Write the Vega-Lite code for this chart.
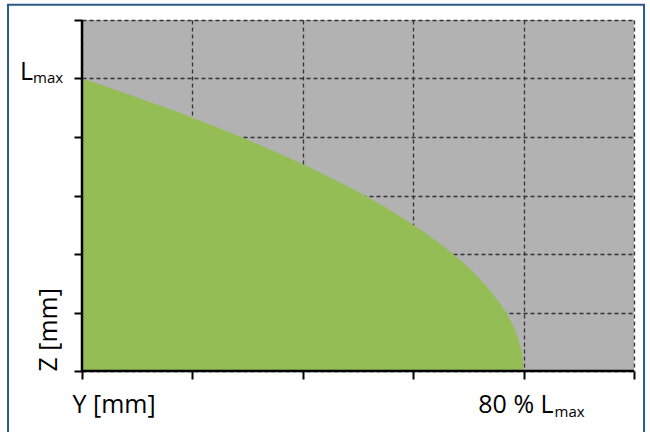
{
  "$schema": "https://vega.github.io/schema/vega-lite/v6.json",
  "width": 552,
  "height": 351,
  "autosize": {"type": "none"},
  "padding": {"left": 82, "top": 20, "right": 16, "bottom": 61},
  "background": "white",
  "config": {
    "view": {"fill": "#b2b2b3", "stroke": null},
    "font": "Open Sans"
  },
  "datasets": {
    "zone": [
      {"y_pos": 0, "z_pos": 5},
      {"y_pos": 0.25, "z_pos": 4.841},
      {"y_pos": 0.5, "z_pos": 4.677},
      {"y_pos": 0.75, "z_pos": 4.507},
      {"y_pos": 1.0, "z_pos": 4.330},
      {"y_pos": 1.25, "z_pos": 4.146},
      {"y_pos": 1.5, "z_pos": 3.953},
      {"y_pos": 1.75, "z_pos": 3.75},
      {"y_pos": 2.0, "z_pos": 3.536},
      {"y_pos": 2.25, "z_pos": 3.307},
      {"y_pos": 2.5, "z_pos": 3.062},
      {"y_pos": 2.75, "z_pos": 2.795},
      {"y_pos": 3.0, "z_pos": 2.5},
      {"y_pos": 3.25, "z_pos": 2.165},
      {"y_pos": 3.5, "z_pos": 1.768},
      {"y_pos": 3.6, "z_pos": 1.581},
      {"y_pos": 3.7, "z_pos": 1.369},
      {"y_pos": 3.8, "z_pos": 1.118},
      {"y_pos": 3.85, "z_pos": 0.968},
      {"y_pos": 3.9, "z_pos": 0.791},
      {"y_pos": 3.95, "z_pos": 0.559},
      {"y_pos": 3.98, "z_pos": 0.354},
      {"y_pos": 3.99, "z_pos": 0.25},
      {"y_pos": 3.995, "z_pos": 0.177},
      {"y_pos": 4.0, "z_pos": 0}
    ],
    "one": [{"k": 1}]
  },
  "layer": [
    {
      "data": {"name": "zone"},
      "mark": {"type": "area", "color": "#94bd55", "interpolate": "monotone"},
      "encoding": {
        "x": {
          "field": "y_pos", "type": "quantitative",
          "scale": {"domain": [0, 5], "nice": false, "zero": false},
          "axis": {
            "values": [0, 1, 2, 3, 4, 5],
            "labels": false,
            "grid": true, "gridColor": "#333333", "gridDash": [4, 3], "gridWidth": 1.3, "gridOpacity": 1,
            "domain": false,
            "tickColor": "black", "tickWidth": 2, "tickSize": 8,
            "title": "Y [mm]",
            "titleFont": "Open Sans", "titleFontSize": 25, "titleFontWeight": "normal", "titleColor": "black",
            "titleAnchor": "start", "titleAlign": "left", "titleBaseline": "alphabetic",
            "titleX": -10, "titleY": 41
          }
        },
        "y": {
          "field": "z_pos", "type": "quantitative",
          "scale": {"domain": [0, 6], "nice": false, "zero": false},
          "axis": {
            "values": [0, 1, 2, 3, 4, 5, 6],
            "labels": false,
            "grid": true, "gridColor": "#333333", "gridDash": [4, 3], "gridWidth": 1.3, "gridOpacity": 1,
            "domain": false,
            "tickColor": "black", "tickWidth": 2, "tickSize": 8,
            "title": "Z [mm]",
            "titleFont": "Open Sans", "titleFontSize": 25, "titleFontWeight": "normal", "titleColor": "black",
            "titleAnchor": "start", "titleAlign": "left", "titleBaseline": "alphabetic", "titleAngle": -90,
            "titleX": -26, "titleY": 351
          }
        }
      }
    },
    {
      "data": {"name": "one"},
      "mark": {"type": "rule", "color": "black", "strokeWidth": 2.5},
      "encoding": {"x": {"datum": 0, "type": "quantitative"}, "y": {"datum": 0, "type": "quantitative"}, "y2": {"datum": 6}}
    },
    {
      "data": {"name": "one"},
      "mark": {"type": "rule", "color": "black", "strokeWidth": 2.5},
      "encoding": {"x": {"datum": 0, "type": "quantitative"}, "x2": {"datum": 5}, "y": {"datum": 0, "type": "quantitative"}}
    },
    {
      "data": {"name": "one"},
      "mark": {"type": "text", "text": "L", "fontSize": 25, "align": "right", "baseline": "alphabetic", "dx": -49, "dy": 1, "color": "black"},
      "encoding": {"x": {"datum": 0, "type": "quantitative"}, "y": {"datum": 5, "type": "quantitative"}}
    },
    {
      "data": {"name": "one"},
      "mark": {"type": "text", "text": "max", "fontSize": 15, "align": "left", "baseline": "alphabetic", "dx": -49, "dy": 4, "color": "black"},
      "encoding": {"x": {"datum": 0, "type": "quantitative"}, "y": {"datum": 5, "type": "quantitative"}}
    },
    {
      "data": {"name": "one"},
      "mark": {"type": "text", "text": "80 % L", "fontSize": 25, "align": "right", "baseline": "alphabetic", "dx": 30, "dy": 42, "color": "black"},
      "encoding": {"x": {"datum": 4, "type": "quantitative"}, "y": {"datum": 0, "type": "quantitative"}}
    },
    {
      "data": {"name": "one"},
      "mark": {"type": "text", "text": "max", "fontSize": 15, "align": "left", "baseline": "alphabetic", "dx": 31, "dy": 46, "color": "black"},
      "encoding": {"x": {"datum": 4, "type": "quantitative"}, "y": {"datum": 0, "type": "quantitative"}}
    },
    {
      "data": {"name": "one"},
      "mark": {"type": "rect", "fill": null, "filled": false, "stroke": "#2c5986", "strokeWidth": 2, "clip": false},
      "encoding": {
        "x": {"datum": -0.67, "type": "quantitative"},
        "x2": {"datum": 5.091},
        "y": {"datum": 6.26, "type": "quantitative"},
        "y2": {"datum": -2}
      }
    }
  ]
}
